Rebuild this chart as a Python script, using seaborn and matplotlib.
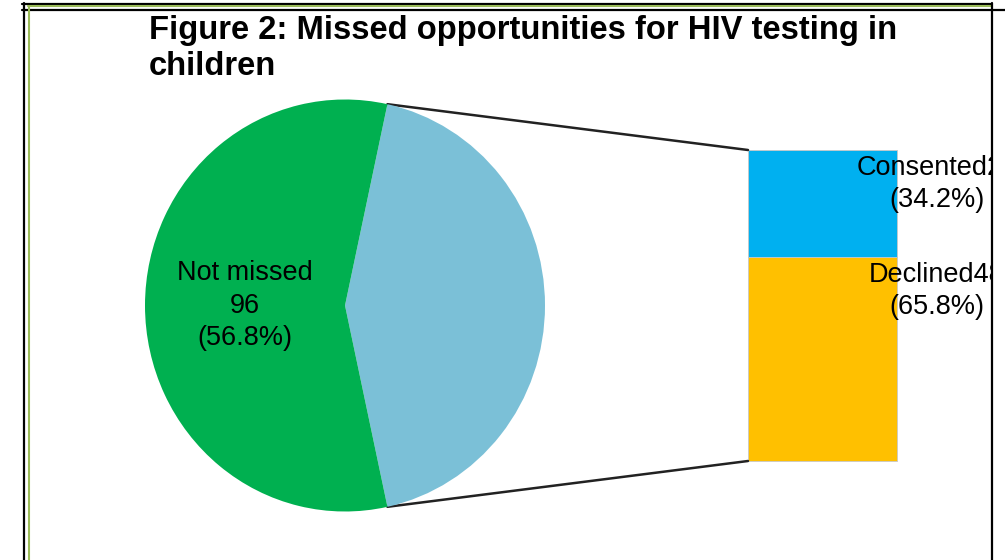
import numpy as np
import matplotlib
matplotlib.use("Agg")
import matplotlib.pyplot as plt
from matplotlib.lines import Line2D
import seaborn as sns

# ---- data ----
pie_labels = ["Missed", "Not missed"]
pie_values = [73, 96]
bar_labels = ["Declined", "Consented"]
bar_values = [48, 25]
title = "Figure 2: Missed opportunities for HIV testing in\nchildren"

pie_colors = ["#7BC0D7", "#00B050"]
bar_colors = ["#FFC000", "#00B0F0"]

sns.set_theme(style="white")
plt.rcParams["font.family"] = ["Liberation Sans", "DejaVu Sans"]

W, H = 1005, 560
fig = plt.figure(figsize=(W / 100, H / 100), dpi=100)
fig.patch.set_facecolor("white")
AXW = 992
ax = fig.add_axes([0, 0, AXW / W, 1])
ax.set_xlim(0, AXW)
ax.set_ylim(0, H)
ax.set_axis_off()

# pie (slightly elliptical like the reference)
pcx, pcy, rx, ry = 345, 305.5, 200, 206   # pixels, y from top
pax = fig.add_axes([(pcx - rx) / W, 1 - (pcy + ry) / H, 2 * rx / W, 2 * ry / H])
total = sum(pie_values)
missed_frac = pie_values[0] / total
start = -missed_frac * 360 / 2


def fmt(p):
    if abs(p - pie_values[1] / total * 100) < 0.01:
        return f"{pie_labels[1]}\n{pie_values[1]}\n({p:.1f}%)"
    return ""


wedges, _, autotexts = pax.pie(pie_values, colors=pie_colors, startangle=start,
                               counterclock=True, radius=1,
                               autopct=fmt, pctdistance=0.5,
                               wedgeprops=dict(linewidth=0),
                               textprops=dict(fontsize=19.5, color="black",
                                              linespacing=1.32))
pax.set_aspect("auto")
pax.set_xlim(-1, 1)
pax.set_ylim(-1, 1)
pax.set_axis_off()

# bar of missed
bx0, bx1 = 748, 897
by0, by1 = H - 461, H - 150
bar_h = by1 - by0
missed_total = sum(bar_values)
bottom = by0
tops = []
for lab, v, c in zip(bar_labels, bar_values, bar_colors):
    h = v / missed_total * bar_h
    ax.bar((bx0 + bx1) / 2, h, width=bx1 - bx0, bottom=bottom, color=c,
           edgecolor="#C8C8C8", linewidth=0.6)
    tops.append(bottom + h)
    bottom += h

for lab, v, top in zip(bar_labels, bar_values, tops):
    pct = v / missed_total * 100
    ax.text(bx1 + 40, top - 5, f"{lab}{v}\n({pct:.1f}%)", ha="center",
            va="top", fontsize=19.5, color="black", linespacing=1.32,
            clip_on=True)

# connector lines
a = np.deg2rad(missed_frac * 360 / 2)
px = pcx + rx * np.cos(a)
ax.plot([px, bx0], [H - (pcy - ry * np.sin(a)), by1], color="#222222", lw=1.8)
ax.plot([px, bx0], [H - (pcy + ry * np.sin(a)), by0], color="#222222", lw=1.8)

# title
ax.text(149, H - 15, title, ha="left", va="top", fontsize=23.6,
        fontweight="bold", color="black", linespacing=1.2)

# frame decoration
def fl(x0, y0, x1, y1, c, lw):
    fig.add_artist(Line2D([x0 / W, x1 / W], [1 - y0 / H, 1 - y1 / H],
                          color=c, lw=lw, transform=fig.transFigure))

fl(22, 3.5, 992, 3.5, "black", 1.6)
fl(28, 6, 992, 6, "#9BBB59", 1.5)
fl(22, 10, 1005, 10, "black", 1.6)
fl(23.5, 3, 23.5, 560, "black", 1.6)
fl(28.5, 6, 28.5, 560, "#9BBB59", 1.5)
fl(992, 3, 992, 560, "black", 1.6)

fig.savefig("out.png", dpi=100)
